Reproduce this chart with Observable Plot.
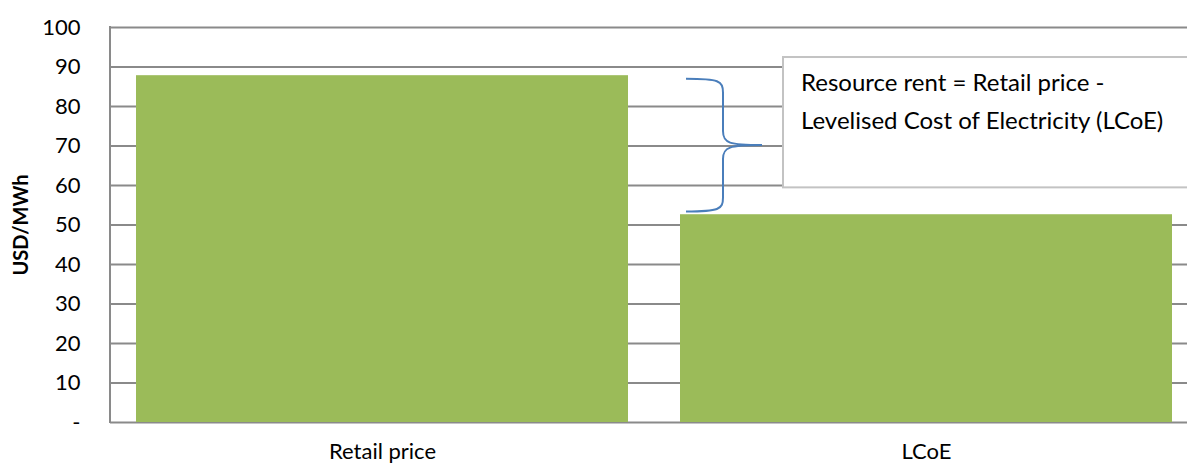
<!DOCTYPE html>
<html>
<head>
<meta charset="utf-8">
<script src="https://cdn.jsdelivr.net/npm/d3@7"></script>
<script src="https://cdn.jsdelivr.net/npm/@observablehq/plot@0.6"></script>
<style>
  html, body { margin: 0; padding: 0; background: #fff; overflow: hidden; }
  #chart svg { display: block; font-family: Lato, "Open Sans", sans-serif; }
  #chart g[aria-label="y-axis label"] text { font-weight: bold; font-size: 20px; }
</style>
</head>
<body>
<div id="chart"></div>
<script>
// ---- data ----
const categories = ["Retail price", "LCoE"];
const values = [87.8, 52.6];
const yTicks = [0, 10, 20, 30, 40, 50, 60, 70, 80, 90, 100];
const yTickLabels = ["-", "10", "20", "30", "40", "50", "60", "70", "80", "90", "100"];
const yLabel = "USD/MWh";
// annotation (data units on y)
const braceSpan = [86.9, 53.3];           // brace top / bottom
const boxSpan = [92.4, 59.4];             // annotation box top / bottom
const annotationLines = ["Resource rent = Retail price -", "Levelised Cost of Electricity (LCoE)"];

const data = categories.map((c, i) => ({category: c, value: values[i]}));

const grey = "#8a8a8a";
const green = "#9BBB59";
const blue = "#4A7EBB";

function leftAxis(index, scales, vals, dims) {
  const {y} = scales;
  return d3.create("svg:line")
    .attr("x1", dims.marginLeft).attr("x2", dims.marginLeft)
    .attr("y1", y(100) - 1).attr("y2", y(0) + 1)
    .attr("stroke", grey).attr("stroke-width", 2).node();
}

function annotation(index, scales, vals, dims) {
  const {x, y} = scales;
  const x0 = x("LCoE");                 // start of LCoE bar
  const yt = y(braceSpan[0]), yb = y(braceSpan[1]);
  const ym = (yt + yb) / 2;
  const xe = x0 + 6, xv = x0 + 43, xt = x0 + 82;
  const g = d3.create("svg:g");
  const path = [
    `M${xe},${yt}`,
    `C${xv - 4},${yt} ${xv},${yt + 2} ${xv},${yt + 14}`,
    `L${xv},${ym - 14}`,
    `C${xv},${ym - 2} ${xv + 6},${ym} ${xt},${ym}`,
    `C${xv + 6},${ym} ${xv},${ym + 2} ${xv},${ym + 14}`,
    `L${xv},${yb - 14}`,
    `C${xv},${yb - 2} ${xv - 4},${yb} ${xe},${yb}`
  ].join(" ");
  g.append("path").attr("d", path).attr("fill", "none").attr("stroke", blue).attr("stroke-width", 2);
  const bx = x0 + 103, by0 = y(boxSpan[0]), by1 = y(boxSpan[1]);
  g.append("rect").attr("x", bx).attr("y", by0).attr("width", dims.width - bx + 20).attr("height", by1 - by0)
    .attr("fill", "#fff").attr("stroke", "#c3c3c3").attr("stroke-width", 2);
  annotationLines.forEach((t, i) => {
    g.append("text").attr("x", bx + 18).attr("y", by0 + 34 + i * 38)
      .attr("text-anchor", "start")
      .attr("font-size", 24).attr("fill", "#000").text(t);
  });
  return g.node();
}

const chart = Plot.plot({
  width: 1187,
  height: 468,
  marginLeft: 110,
  marginRight: 0,
  marginTop: 27,
  marginBottom: 46,
  style: {fontSize: "22px", color: "#000", background: "#fff"},
  x: {domain: categories, range: [110, 1198], paddingInner: 0.095, paddingOuter: 0.0475},
  y: {domain: [0, 100]},
  marks: [
    Plot.ruleY(yTicks, {stroke: grey, strokeWidth: 2}),
    Plot.barY(data, {x: "category", y: "value", fill: green}),
    leftAxis,
    annotation,
    Plot.axisY({ticks: yTicks, tickSize: 0, tickPadding: 30, tickFormat: (d) => yTickLabels[yTicks.indexOf(d)],
      label: yLabel, labelAnchor: "center", labelArrow: "none", labelOffset: 97, fontSize: 22}),
    Plot.axisX({tickSize: 0, tickPadding: 21, label: null, fontSize: 22})
  ]
});
document.getElementById("chart").append(chart);
</script>
</body>
</html>
